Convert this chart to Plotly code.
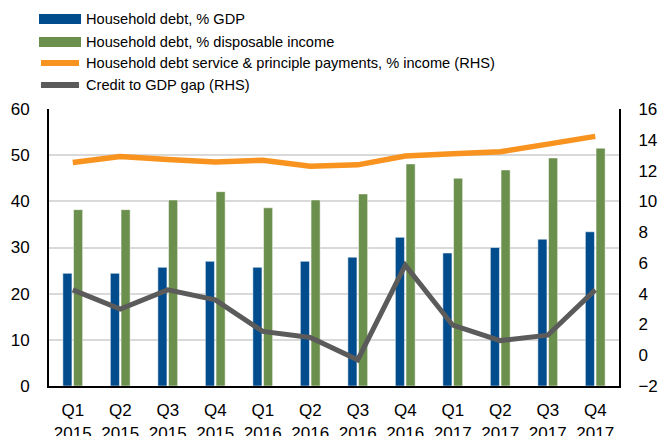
import plotly.graph_objects as go

quarters = ["Q1<br>2015", "Q2<br>2015", "Q3<br>2015", "Q4<br>2015",
            "Q1<br>2016", "Q2<br>2016", "Q3<br>2016", "Q4<br>2016",
            "Q1<br>2017", "Q2<br>2017", "Q3<br>2017", "Q4<br>2017"]
debt_gdp = [24.4, 24.4, 25.7, 27.0, 25.7, 27.0, 27.9, 32.2, 28.8, 30.0, 31.8, 33.4]
debt_income = [38.2, 38.2, 40.3, 42.1, 38.6, 40.3, 41.6, 48.1, 45.0, 46.8, 49.4, 51.5]
debt_service = [12.52, 12.92, 12.72, 12.55, 12.67, 12.28, 12.37, 12.95, 13.10, 13.22, 13.72, 14.22]
credit_gap = [4.25, 3.0, 4.25, 3.6, 1.55, 1.15, -0.3, 5.85, 1.95, 0.95, 1.3, 4.25]

legend_labels = ["Household debt, % GDP",
                 "Household debt, % disposable income",
                 "Household debt service & principle payments, % income (RHS)",
                 "Credit to GDP gap (RHS)"]

BLUE = "#004C8C"
GREEN = "#6B8F4C"
ORANGE = "#F7931E"
GRAY = "#5B5B5B"
FONT = "Liberation Sans, Arial, sans-serif"

W, H = 659, 436
L, R, T, B = 49, 40, 109, 50
PW = W - L - R
PH = H - T - B


def px(x):
    return (x - L) / PW


def py(y):
    return (H - B - y) / PH


fig = go.Figure()
fig.add_trace(go.Bar(x=quarters, y=debt_gdp, name=legend_labels[0],
                     marker=dict(color=BLUE, line=dict(color="white", width=0.5))))
fig.add_trace(go.Bar(x=quarters, y=debt_income, name=legend_labels[1],
                     marker=dict(color=GREEN, line=dict(color="white", width=0.5))))
fig.add_trace(go.Scatter(x=quarters, y=debt_service, name=legend_labels[2], yaxis="y2",
                         mode="lines", line=dict(color=ORANGE, width=5.5)))
fig.add_trace(go.Scatter(x=quarters, y=credit_gap, name=legend_labels[3], yaxis="y2",
                         mode="lines", line=dict(color=GRAY, width=5)))

# custom legend (shapes + text)
rows_y = [19, 42, 63, 85]
kinds = [("rect", BLUE), ("rect", GREEN), ("line", ORANGE), ("line", GRAY)]
for (kind, col), yy, lab in zip(kinds, rows_y, legend_labels):
    if kind == "rect":
        fig.add_shape(type="rect", xref="paper", yref="paper",
                      x0=px(39), x1=px(81), y0=py(yy + 5), y1=py(yy - 5),
                      fillcolor=col, line=dict(width=0))
    else:
        fig.add_shape(type="line", xref="paper", yref="paper",
                      x0=px(41), x1=px(79), y0=py(yy), y1=py(yy),
                      line=dict(color=col, width=6))
    fig.add_annotation(xref="paper", yref="paper", x=px(84), y=py(yy),
                       xanchor="left", yanchor="middle", text=lab, showarrow=False,
                       font=dict(size=14.6, color="#000000", family=FONT))

fig.update_layout(
    width=W, height=H,
    margin=dict(l=L, r=R, t=T, b=B),
    paper_bgcolor="white", plot_bgcolor="white",
    showlegend=False,
    barmode="group", bargap=0.55, bargroupgap=0.15,
    font=dict(family=FONT, size=16, color="#000000"),
    xaxis=dict(showline=True, linecolor="black", linewidth=2, ticks="",
               tickfont=dict(size=17), ticklabelstandoff=8, automargin=False),
    yaxis=dict(range=[0, 60], dtick=10, showline=True, linecolor="black", linewidth=2,
               showgrid=True, gridcolor="#D9D9D9", gridwidth=2, zeroline=False,
               ticks="", ticklabelstandoff=14, tickfont=dict(size=17), automargin=False),
    yaxis2=dict(range=[-2, 16], dtick=2, overlaying="y", side="right",
                showline=True, linecolor="black", linewidth=2, showgrid=False,
                zeroline=False, ticks="", ticklabelstandoff=14, tickfont=dict(size=17),
                automargin=False),
)

fig.write_html("out.html")
